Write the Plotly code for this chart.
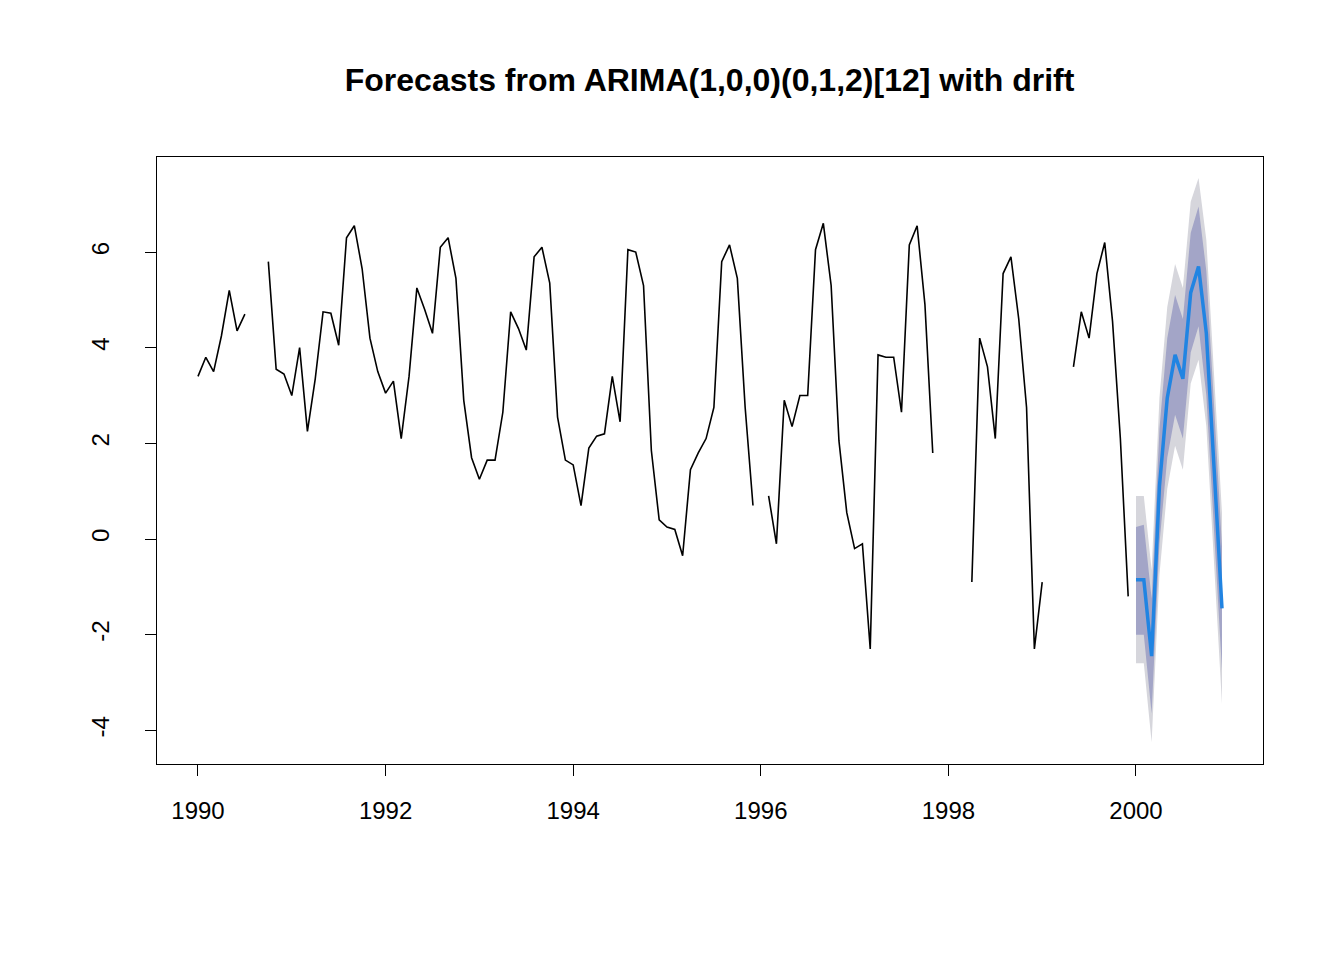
import plotly.graph_objects as go
import numpy as np

start_year = 1990
# monthly observed series, Jan 1990 .. Dec 1999 (None = missing)
observed = [
    3.4, 3.8, 3.5, 4.25, 5.2, 4.35, 4.7, None, None, 5.8, 3.55, 3.45,
    3.0, 4.0, 2.25, 3.35, 4.75, 4.72, 4.05, 6.3, 6.55, 5.65, 4.2, 3.5,
    3.05, 3.3, 2.1, 3.4, 5.25, 4.8, 4.3, 6.1, 6.3, 5.45, 2.9, 1.7,
    1.25, 1.65, 1.65, 2.65, 4.75, 4.4, 3.95, 5.9, 6.1, 5.35, 2.55, 1.65,
    1.55, 0.7, 1.9, 2.15, 2.2, 3.4, 2.45, 6.05, 6.0, 5.3, 1.85, 0.4,
    0.25, 0.2, -0.35, 1.45, 1.8, 2.1, 2.75, 5.8, 6.15, 5.45, 2.75, 0.7,
    None, 0.9, -0.1, 2.9, 2.35, 3.0, 3.0, 6.05, 6.6, 5.3, 2.05, 0.55,
    -0.2, -0.1, -2.3, 3.85, 3.8, 3.8, 2.65, 6.15, 6.55, 4.9, 1.8, None,
    None, None, None, -0.9, 4.2, 3.6, 2.1, 5.55, 5.9, 4.6, 2.75, -2.3,
    -0.9, None, None, None, 3.6, 4.75, 4.2, 5.55, 6.2, 4.55, 2.1, -1.2,
]
# forecasts for 2000
fc_mean = [-0.85, -0.85, -2.45, 1.1, 2.95, 3.85, 3.35, 5.15, 5.7, 4.3, 1.45, -1.45]
lo80 = [-2.0, -2.0, -3.65, -0.1, 1.7, 2.6, 2.1, 3.9, 4.45, 3.0, 0.15, -2.75]
hi80 = [0.25, 0.3, -1.25, 2.3, 4.2, 5.1, 4.6, 6.4, 6.95, 5.6, 2.75, -0.15]
lo95 = [-2.6, -2.6, -4.25, -0.75, 1.05, 1.95, 1.45, 3.25, 3.75, 2.35, -0.5, -3.45]
hi95 = [0.9, 0.9, -0.65, 2.95, 4.85, 5.75, 5.25, 7.05, 7.55, 6.25, 3.4, 0.55]

y_ticks = [-4, -2, 0, 2, 4, 6]
x_ticks = list(range(1990, 2001, 2))

t_obs = start_year + np.arange(len(observed)) / 12
t_fc = start_year + len(observed) / 12 + np.arange(len(fc_mean)) / 12

fig = go.Figure()
fig.add_trace(go.Scatter(x=np.concatenate([t_fc, t_fc[::-1]]), y=hi95 + lo95[::-1],
                         fill="toself", fillcolor="#D6D6DC", line=dict(width=0),
                         hoverinfo="skip", showlegend=False))
fig.add_trace(go.Scatter(x=np.concatenate([t_fc, t_fc[::-1]]), y=hi80 + lo80[::-1],
                         fill="toself", fillcolor="#A3A5C7", line=dict(width=0),
                         hoverinfo="skip", showlegend=False))
fig.add_trace(go.Scatter(x=t_obs, y=observed, mode="lines", connectgaps=False,
                         line=dict(color="black", width=1.6), showlegend=False))
fig.add_trace(go.Scatter(x=t_fc, y=fc_mean, mode="lines",
                         line=dict(color="#2184E2", width=3.5), showlegend=False))

axis_common = dict(showline=True, linecolor="black", linewidth=1.2, mirror=True,
                   ticks="outside", ticklen=11, tickcolor="black", showgrid=False,
                   zeroline=False, tickfont=dict(size=24, color="black"))
fig.update_xaxes(range=[1989.563, 2001.354], tickvals=x_ticks, ticklabelstandoff=14,
                 **axis_common)
fig.update_yaxes(range=[-4.704, 7.987], tickvals=y_ticks, ticktext=[str(v) for v in y_ticks],
                 tickangle=-90, ticklabelstandoff=26, **axis_common)
fig.update_layout(
    width=1344, height=960, plot_bgcolor="white", paper_bgcolor="white",
    margin=dict(l=149, r=89, t=149, b=204),
    font=dict(family="Liberation Sans, Arial, sans-serif", color="black"),
    title=dict(text="<b>Forecasts from ARIMA(1,0,0)(0,1,2)[12] with drift</b>",
               x=0.522, xanchor="center", y=0.925, yanchor="middle", font=dict(size=32)),
)
fig.write_html("out.html")
